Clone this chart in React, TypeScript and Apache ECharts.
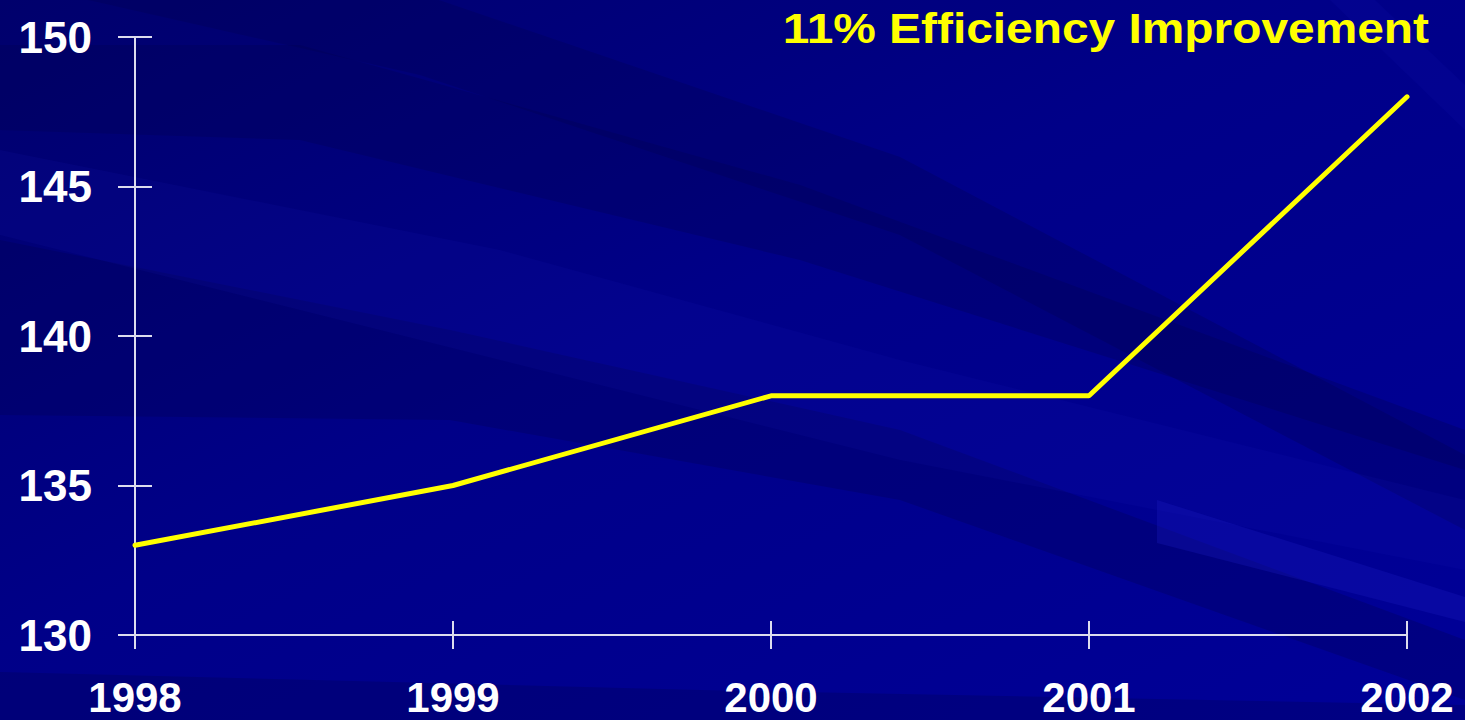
import React, { useEffect, useRef } from "react";
import * as echarts from "echarts";

// Chart data
const years = ["1998", "1999", "2000", "2001", "2002"];
const efficiency = [133, 135, 138, 138, 148];
const yMin = 130;
const yMax = 150;
const yStep = 5;
const headline = "11% Efficiency Improvement";

const FONT = "'Liberation Sans', Arial, Helvetica, sans-serif";

// Diagonal streaks of the slide background
const darkBands: number[][][] = [
  [[380, -20], [900, 157], [1465, 455], [1465, 530], [900, 235], [420, 75], [0, -20]],
  [[0, 45], [300, 45], [800, 185], [1465, 430], [1465, 470], [800, 260], [300, 140], [0, 130]],
  [[0, 240], [450, 330], [900, 430], [1465, 640], [1465, 700], [900, 500], [450, 420], [0, 415]],
  [[0, 672], [700, 690], [1465, 705], [1465, 720], [0, 720]],
];
const lightBands: number[][][] = [
  [[0, 150], [500, 250], [900, 360], [1465, 500], [1465, 570], [900, 460], [500, 360], [0, 235]],
  [[1157, 500], [1465, 597], [1465, 622], [1157, 543]],
  [[1330, 0], [1375, 0], [1465, 85], [1465, 130]],
];

export default function App() {
  const ref = useRef<HTMLDivElement>(null);

  useEffect(() => {
    if (!ref.current) return;
    const chart = echarts.init(ref.current, undefined, { renderer: "svg" });

    const bgShapes: any[] = [
      ...darkBands.map((pts) => ({
        type: "polygon",
        z: -10,
        silent: true,
        shape: { points: pts },
        style: { fill: "#000050", opacity: 0.28 },
      })),
      ...lightBands.map((pts, i) => ({
        type: "polygon",
        z: -9,
        silent: true,
        shape: { points: pts },
        style: { fill: "#1c1cc0", opacity: i === 1 ? 0.3 : 0.1 },
      })),
    ];

    const axisLineStyle = { color: "#dcdcee", width: 2 };

    chart.setOption({
      animation: false,
      backgroundColor: {
        type: "linear",
        x: 0,
        y: 0,
        x2: 1,
        y2: 1,
        colorStops: [
          { offset: 0, color: "#00006c" },
          { offset: 0.45, color: "#000088" },
          { offset: 1, color: "#000098" },
        ],
      },
      graphic: [
        ...bgShapes,
        {
          type: "text",
          x: 1429,
          y: 8,
          scaleX: 1.14,
          z: 10,
          style: {
            text: headline,
            x: 0,
            y: 0,
            textAlign: "right",
            textVerticalAlign: "top",
            fill: "#ffff00",
            font: `bold 42px ${FONT}`,
          },
        },
      ],
      grid: { left: 135, right: 58, top: 37, bottom: 85, outerBoundsMode: "none" },
      xAxis: [
        {
          type: "category",
          data: years,
          boundaryGap: false,
          axisLine: { lineStyle: axisLineStyle },
          axisTick: { length: 14, lineStyle: axisLineStyle },
          axisLabel: {
            color: "#ffffff",
            fontFamily: FONT,
            fontWeight: "bold",
            fontSize: 42,
            lineHeight: 36,
            margin: 44,
          },
          splitLine: { show: false },
        },
        {
          type: "category",
          data: years,
          position: "bottom",
          boundaryGap: false,
          axisLine: { show: false },
          axisTick: { inside: true, length: 14, lineStyle: axisLineStyle },
          axisLabel: { show: false },
          splitLine: { show: false },
        },
      ],
      yAxis: [
        {
          type: "value",
          min: yMin,
          max: yMax,
          interval: yStep,
          axisLine: { show: true, lineStyle: axisLineStyle },
          axisTick: { show: true, length: 17, lineStyle: axisLineStyle },
          axisLabel: {
            color: "#ffffff",
            fontFamily: FONT,
            fontWeight: "bold",
            fontSize: 44,
            margin: 43,
          },
          splitLine: { show: false },
        },
        {
          type: "value",
          position: "left",
          min: yMin,
          max: yMax,
          interval: yStep,
          axisLine: { show: false },
          axisTick: { show: true, inside: true, length: 17, lineStyle: axisLineStyle },
          axisLabel: { show: false },
          splitLine: { show: false },
        },
      ],
      series: [
        {
          type: "line",
          data: efficiency,
          xAxisIndex: 0,
          yAxisIndex: 0,
          symbol: "none",
          z: 5,
          lineStyle: { color: "#ffff00", width: 5, cap: "round" },
        },
      ],
    });

    return () => chart.dispose();
  }, []);

  return (
    <div
      ref={ref}
      style={{ position: "fixed", left: 0, top: 0, width: 1465, height: 720 }}
    />
  );
}
